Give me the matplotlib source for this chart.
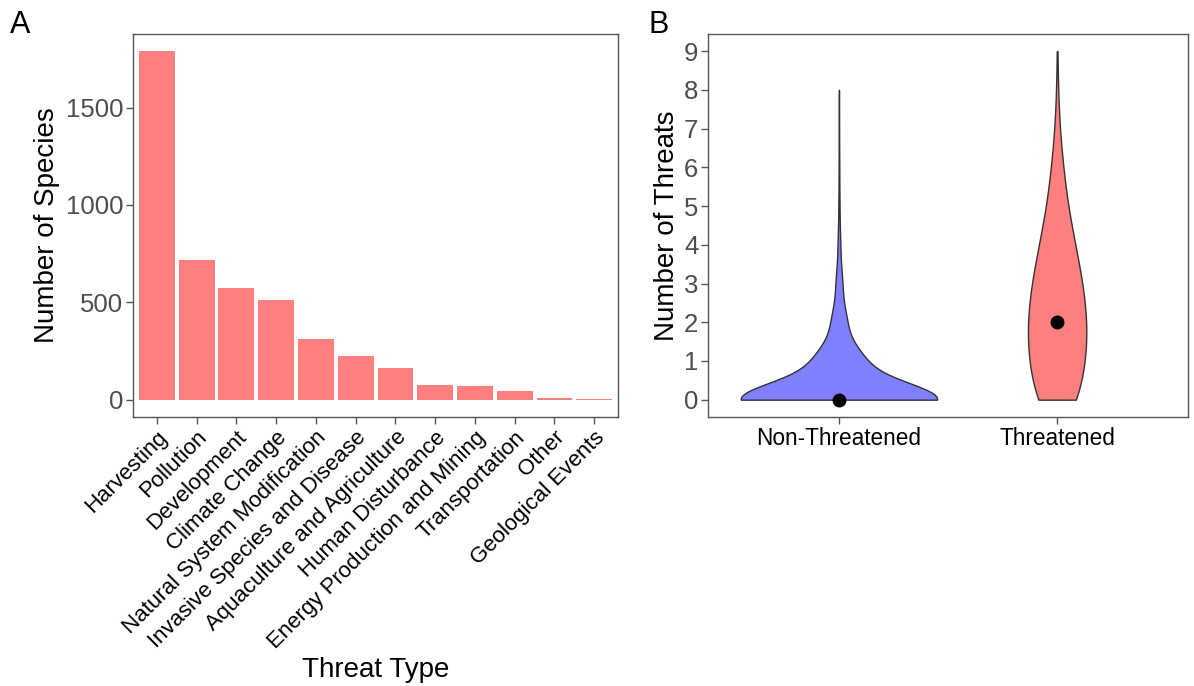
"""Threat types per species (A) and number of threats by status (B)."""
import numpy as np
import matplotlib.pyplot as plt

# Panel A data
threat_types = ["Harvesting", "Pollution", "Development", "Climate Change",
                "Natural System Modification", "Invasive Species and Disease",
                "Aquaculture and Agriculture", "Human Disturbance",
                "Energy Production and Mining", "Transportation", "Other",
                "Geological Events"]
n_species = [1790, 717, 571, 514, 313, 225, 165, 74, 71, 43, 9, 4]

# Panel B data: number of species having 0, 1, 2, ... threats
status_labels = ["Non-Threatened", "Threatened"]
threat_levels_nt = [0, 1, 2, 3, 4, 5, 6, 7, 8]
counts_nt = [2000, 440, 140, 60, 24, 10, 6, 3, 2]
threat_levels_t = [0, 1, 2, 3, 4, 5, 6, 7, 8, 9]
counts_t = [72, 95, 100, 85, 60, 35, 20, 8, 3, 1]
bandwidths = [0.45, 0.7]

RED = "#FF7F7F"
BLUE = "#7F7FFF"
GREY = "#4D4D4D"

plt.rcParams["font.family"] = ["Liberation Sans", "DejaVu Sans"]


def kde(levels, counts, bw):
    levels = np.asarray(levels, float)
    counts = np.asarray(counts, float)
    y = np.linspace(levels.min(), levels.max(), 512)
    z = (y[:, None] - levels[None, :]) / bw
    dens = (counts * np.exp(-0.5 * z ** 2)).sum(axis=1) / (counts.sum() * bw * np.sqrt(2 * np.pi))
    return y, dens


def style_axes(ax):
    for s in ax.spines.values():
        s.set_color("#555555")
        s.set_linewidth(1.0)
    ax.tick_params(axis="both", length=5, width=1, color="#555555", pad=2)
    ax.tick_params(axis="y", labelsize=18.5, labelcolor=GREY)


fig = plt.figure(figsize=(11.94, 6.86), dpi=100)
ax1 = fig.add_axes([0.1114, 0.392, 0.4062, 0.5588])
ax2 = fig.add_axes([0.5930, 0.392, 0.4020, 0.5588])

# Panel A: bars
x = np.arange(1, len(threat_types) + 1)
ax1.bar(x, n_species, width=0.9, color=RED, edgecolor="none")
ax1.set_xlim(0.4, len(threat_types) + 0.6)
top = max(n_species)
ax1.set_ylim(-0.05 * top, 1.05 * top)
ax1.set_yticks([0, 500, 1000, 1500])
ax1.set_xticks(x)
ax1.set_xticklabels(threat_types, rotation=45, ha="right", va="top",
                    rotation_mode="anchor", fontsize=16, color="black")
ax1.set_ylabel("Number of Species", fontsize=20, labelpad=4)
ax1.set_xlabel("Threat Type", fontsize=20)
ax1.xaxis.set_label_coords(0.5, -0.625)
style_axes(ax1)

# Panel B: violins (area scaled, trimmed to data range)
groups = [(threat_levels_nt, counts_nt, BLUE), (threat_levels_t, counts_t, RED)]
curves = [kde(lv, ct, bw) for (lv, ct, _), bw in zip(groups, bandwidths)]
dmax = max(d.max() for _, d in curves)
for i, ((lv, ct, col), (yy, dd)) in enumerate(zip(groups, curves), start=1):
    half = 0.45 * dd / dmax
    ax2.fill_betweenx(yy, i - half, i + half, facecolor=col, edgecolor="#333333",
                      linewidth=1.0, zorder=2)
    med = np.median(np.repeat(lv, ct))
    ax2.plot(i, med, "o", color="black", markersize=9, zorder=3)
ax2.set_xlim(0.4, 2.6)
ax2.set_ylim(-0.45, 9.45)
ax2.set_yticks(range(10))
ax2.set_xticks([1, 2])
ax2.set_xticklabels(status_labels, fontsize=16.3, color="black")
ax2.set_ylabel("Number of Threats", fontsize=20, labelpad=3)
style_axes(ax2)

fig.text(0.008, 0.985, "A", fontsize=22, va="top")
fig.text(0.543, 0.985, "B", fontsize=22, va="top")

fig.savefig("out.png", dpi=100)
